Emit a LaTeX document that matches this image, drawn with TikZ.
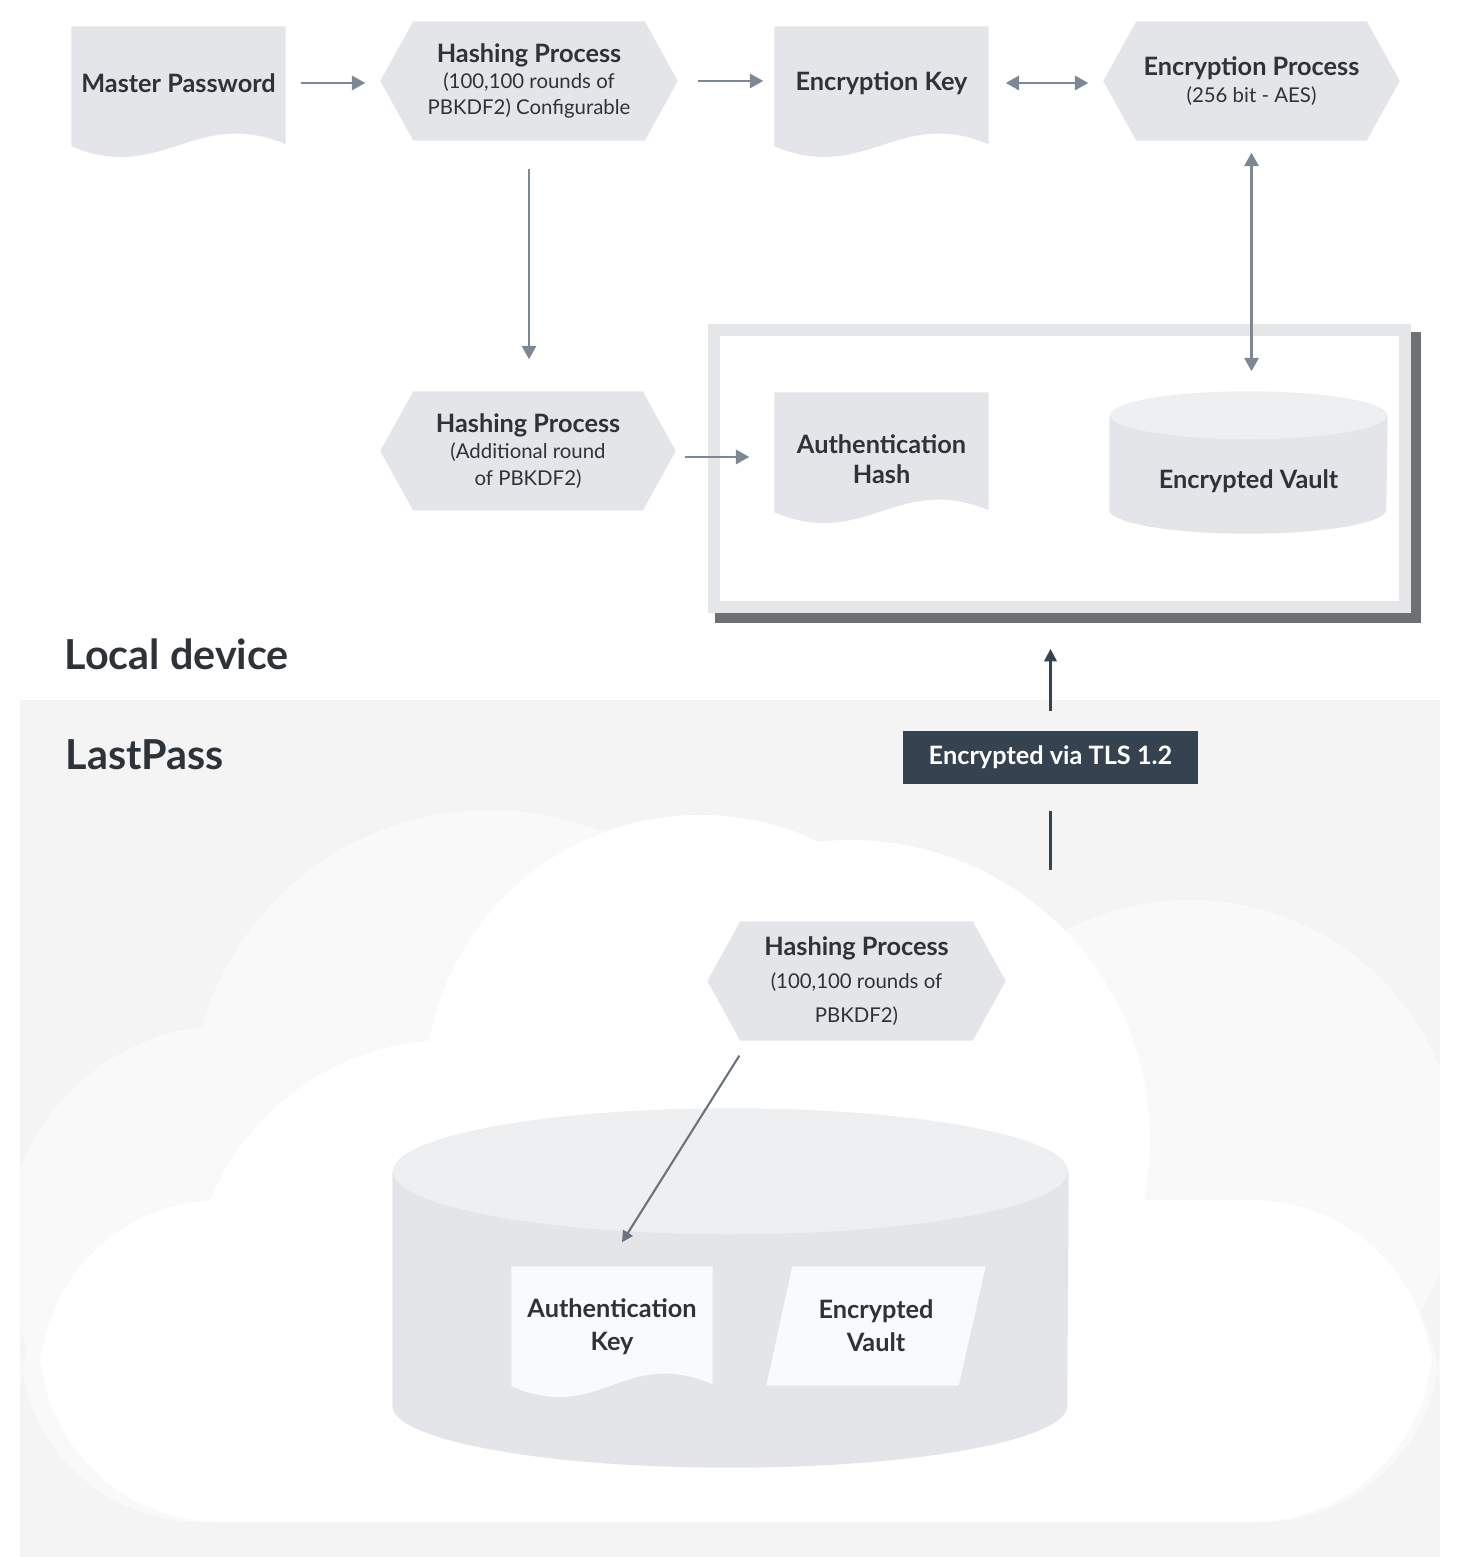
\documentclass[tikz,border=0pt]{standalone}
\usepackage{fontspec}
\setmainfont{Lato}
\usetikzlibrary{positioning}
\usetikzlibrary{backgrounds, arrows.meta}

\definecolor{shapegray}{HTML}{E3E5E8}
\definecolor{topgray}{HTML}{EDEFF1}
\definecolor{paper}{HTML}{F9FAFB}
\definecolor{inkgray}{HTML}{2D3338}
\definecolor{flowgray}{HTML}{7C8994}
\definecolor{tlsblue}{HTML}{34434F}
\definecolor{bandgray}{HTML}{F4F4F4}
\definecolor{mistgray}{HTML}{F9F9F9}
\definecolor{framegray}{HTML}{E4E6E8}
\definecolor{shadowgray}{HTML}{6E7073}

\newcommand{\titlefont}{\fontsize{7.2}{7.5}\selectfont\bfseries}
\newcommand{\subfont}{\fontsize{5.8}{7.5}\selectfont\mdseries}
\newcommand{\docshape}[2]{\fill[#2] (#1.north west) -- (#1.north east) -- ([yshift=-1.18cm]#1.north east)
  .. controls +(-0.9,0.38) and +(0.9,-0.38) .. ([yshift=-1.20cm]#1.north west) -- cycle;}
\newcommand{\hexshape}[2]{\fill[#2] (#1.west) -- ([xshift=0.33cm]#1.north west) -- ([xshift=-0.33cm]#1.north east)
  -- (#1.east) -- ([xshift=-0.33cm]#1.south east) -- ([xshift=0.33cm]#1.south west) -- cycle;}

\tikzset{
  docbox/.style={minimum width=2.13cm, minimum height=1.12cm, inner sep=0pt, align=center, text=inkgray, font=\titlefont},
  hexbox/.style={minimum width=2.96cm, minimum height=1.18cm, inner sep=0pt, align=center, text=inkgray, font=\titlefont},
  flow/.style={draw=flowgray, line width=0.8pt, -{Triangle[length=3.8pt,width=4pt]}},
  bothflow/.style={flow, {Triangle[length=3.8pt,width=4pt]}-{Triangle[length=3.8pt,width=4pt]}},
  thinflow/.style={draw=flowgray!85!black, line width=0.6pt, -{Triangle[length=3.2pt,width=3.2pt]}},
  tlsarrow/.style={draw=tlsblue, line width=0.9pt, -{Triangle[length=3.6pt,width=3.4pt]}},
  tlsline/.style={draw=tlsblue, line width=0.9pt},
  sidetitle/.style={anchor=base west, font=\fontsize{11.75}{13}\selectfont\bfseries, text=inkgray, inner sep=0pt},
}

\begin{document}
\begin{tikzpicture}
\useasboundingbox (0,0) rectangle (14.68,15.57);
% local device
\node[docbox] (mpw) at (1.785,14.74) {Master Password};
\node[hexbox] (hashone) at (5.29,14.76) {Hashing Process\\{\subfont (100,100 rounds of}\\{\subfont PBKDF2) Configurable}};
\node[docbox] (enckey) at (8.815,14.74) {Encryption Key};
\node[hexbox, minimum width=2.95cm] (encproc) at (12.515,14.76) {Encryption Process\\{\subfont (256 bit - AES)}};
\node[hexbox, minimum width=2.94cm] (hashtwo) at (5.28,11.06) {Hashing Process\\{\subfont (Additional round}\\{\subfont of PBKDF2)}};
\node[docbox, minimum height=1.32cm] (authhash) at (8.815,10.98) {Authentication\\[1pt]Hash};
\node[docbox, minimum width=2.77cm, minimum height=1.17cm, text height=9.5pt, text depth=1.5pt] (vault) at (12.485,10.825) {Encrypted Vault};
\node[sidetitle] (localtxt) at (0.64,8.87) {Local device};
% lastpass
\node[sidetitle] (lptxt) at (0.65,7.87) {LastPass};
\node[fill=tlsblue, text=white, font=\titlefont, minimum width=2.95cm, minimum height=0.53cm, inner sep=0pt] (tls) at (10.505,7.995) {Encrypted via TLS 1.2};
\coordinate (cloudtop) at (10.505,6.87);
\node[hexbox, minimum width=2.97cm] (hashthree) at (8.565,5.76) {Hashing Process\\[2pt]{\subfont (100,100 rounds of}\\[2pt]{\subfont PBKDF2)}};
\node[docbox, minimum width=2.00cm, minimum height=1.19cm] (authkey) at (6.12,2.305) {Authentication\\[2pt]Key};
\node[docbox, minimum width=2.18cm, minimum height=1.18cm] (cvault) at (8.76,2.31) {Encrypted\\[2pt]Vault};

\begin{scope}[on background layer]
\fill[white] (0,0) rectangle (14.68,15.57);
\fill[bandgray] (0.2,0) rectangle (14.4,8.57);
\begin{scope}
\clip (0.2,0.35) rectangle (14.4,8.57);
\fill[mistgray] (4.9,4.47) circle (3) (2.3,3.07) circle (2.25) (11.9,3.87) circle (2.7);
\fill[mistgray,rounded corners=1.8cm] (0.2,0.35) rectangle (14.4,3.4);
\fill[white] (7,4.67) circle (2.75) (8.5,4.17) circle (3) (4.5,2.57) circle (2.6);
\fill[white,rounded corners=1.8cm] (0.4,0.35) rectangle (14.32,3.57);
\end{scope}
\node[minimum width=6.75cm, minimum height=2.95cm, inner sep=0pt] (lpvault) at (7.305,2.375) {};
\fill[shapegray] (lpvault.north west) -- ([yshift=0.62cm]lpvault.south west) arc[start angle=180, end angle=360, x radius=3.375cm, y radius=0.62cm] -- (lpvault.north east) -- cycle;
\fill[topgray] (lpvault.north) ellipse [x radius=3.375cm, y radius=0.63cm];
\node[minimum width=6.89cm, minimum height=2.75cm, inner sep=0pt] (lb) at (10.595,10.885) {};
\fill[shadowgray] ([shift={(0.01,-0.16)}]lb.south west) rectangle ([shift={(0.16,-0.02)}]lb.north east);
\draw[framegray, line width=3.4pt, fill=white] (lb.south west) rectangle (lb.north east);
\docshape{mpw}{shapegray}
\hexshape{hashone}{shapegray}
\docshape{enckey}{shapegray}
\hexshape{encproc}{shapegray}
\hexshape{hashtwo}{shapegray}
\docshape{authhash}{shapegray}
\fill[shapegray] (vault.north west) -- ([yshift=0.24cm]vault.south west) arc[start angle=180, end angle=360, x radius=1.385cm, y radius=0.24cm] -- (vault.north east) -- cycle;
\fill[topgray] (vault.north) ellipse [x radius=1.385cm, y radius=0.24cm];
\hexshape{hashthree}{shapegray}
\docshape{authkey}{paper}
\fill[paper] ([xshift=0.26cm]cvault.north west) -- (cvault.north east) -- ([xshift=-0.27cm]cvault.south east) -- (cvault.south west) -- cycle;
\end{scope}

\draw[flow, shorten <=0.15cm, shorten >=0.15cm] (mpw.east) -- (mpw.east -| hashone.west);
\draw[flow, shorten <=0.2cm, shorten >=0.11cm] (hashone.east) -- (hashone.east -| enckey.west);
\draw[bothflow, shorten <=0.17cm, shorten >=0.15cm] (enckey.east) -- (enckey.east -| encproc.west);
\draw[bothflow, shorten <=0.12cm, shorten >=0.44cm] (encproc.south) -- (encproc.south |- vault.north);
\draw[flow, shorten <=0.28cm, shorten >=0.32cm] (hashone.south) -- (hashone.south |- hashtwo.north);
\draw[flow, shorten <=0.09cm, shorten >=0.25cm] ([yshift=-0.06cm]hashtwo.east) -- ([yshift=-0.06cm]hashtwo.east -| authhash.west);
\draw[tlsarrow, shorten <=0.19cm, shorten >=0.42cm] (tls.north) -- (tls.north |- lb.south);
\draw[tlsline, shorten <=0.26cm] (tls.south) -- (cloudtop);
\draw[thinflow] ([shift={(0.32,-0.15)}]hashthree.south west) -- ([shift={(0.10,0.24)}]authkey.north);

\end{tikzpicture}
\end{document}
